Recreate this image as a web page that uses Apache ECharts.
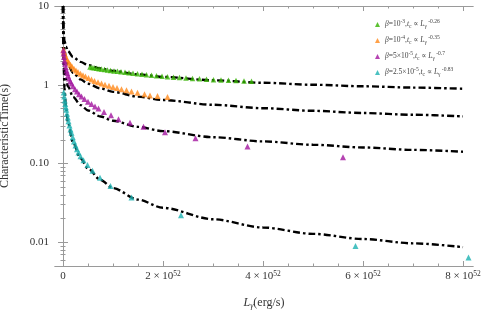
<!DOCTYPE html>
<html><head><meta charset="utf-8">
<script src="https://cdn.jsdelivr.net/npm/echarts@6/dist/echarts.min.js"></script>
<style>html,body{margin:0;padding:0;background:#fff}#c{width:488px;height:320px}</style>
</head><body><div id="c"></div>
<script>
// x in units of 10^52 erg/s, y in seconds
const xMajorTicks = [0, 2, 4, 6, 8];
const xMinorTicks = [0.5, 1, 1.5, 2.5, 3, 3.5, 4.5, 5, 5.5, 6.5, 7, 7.5];
const yMajorTicks = [0.01, 0.1, 1, 10];
const yMinorTicks = [0.006, 0.007, 0.008, 0.009, 0.02, 0.03, 0.04, 0.05, 0.06, 0.07, 0.08, 0.09,
  0.2, 0.3, 0.4, 0.5, 0.6, 0.7, 0.8, 0.9, 2, 3, 4, 5, 6, 7, 8, 9];

const seriesNames = ['b1', 'b2', 'b3', 'b4'];
const seriesColors = ['#35b300', '#ff8a1c', '#a3159f', '#1db1b1'];

const greenPts = [[0.54,1.68],[0.58,1.66],[0.62,1.64],[0.67,1.62],[0.72,1.60],[0.77,1.58],[0.83,1.56],
  [0.89,1.54],[0.95,1.52],[1.02,1.50],[1.09,1.48],[1.16,1.46],[1.24,1.44],[1.32,1.42],[1.40,1.40],
  [1.49,1.38],[1.58,1.36],[1.67,1.34],[1.77,1.32],[1.87,1.30],[1.98,1.28],[2.09,1.265],[2.21,1.25],
  [2.33,1.235],[2.46,1.22],[2.59,1.205],[2.73,1.19],[2.87,1.175],[3.01,1.16],[3.16,1.15],[3.31,1.14],
  [3.46,1.13],[3.62,1.12],[3.77,1.11]];
const orangePts = [[0.01,2.80],[0.02,2.62],[0.035,2.45],[0.05,2.30],[0.07,2.15],[0.09,2.03],[0.12,1.90],
  [0.15,1.79],[0.18,1.70],[0.22,1.60],[0.26,1.52],[0.30,1.45],[0.35,1.38],[0.40,1.32],[0.45,1.27],
  [0.51,1.22],[0.57,1.17],[0.63,1.12],[0.70,1.08],[0.77,1.04],[0.84,1.00],[0.92,0.97],[1.00,0.94],
  [1.08,0.91],[1.17,0.88],[1.27,0.85],[1.37,0.82],[1.49,0.79],[1.63,0.76],[1.74,0.73],[1.89,0.72],[2.09,0.70]];
const purplePts = [[0.007,2.75],[0.012,2.5],[0.02,2.25],[0.03,2.02],[0.04,1.85],[0.055,1.67],[0.07,1.52],
  [0.085,1.41],[0.1,1.3],[0.12,1.2],[0.145,1.11],[0.17,1.04],[0.2,0.96],[0.24,0.88],[0.28,0.82],
  [0.32,0.76],[0.37,0.71],[0.43,0.66],[0.5,0.61],[0.57,0.57],[0.64,0.53],[0.71,0.50],[0.82,0.45],
  [0.96,0.41],[1.11,0.365],[1.34,0.33],[1.61,0.292],[2.04,0.25],[2.65,0.21],[3.69,0.164],[5.6,0.12]];
const cyanPts = [[0.015,0.80],[0.025,0.71],[0.035,0.63],[0.045,0.57],[0.055,0.52],[0.065,0.48],[0.08,0.43],
  [0.095,0.385],[0.11,0.345],[0.13,0.305],[0.15,0.27],[0.17,0.245],[0.195,0.215],[0.22,0.19],[0.25,0.17],
  [0.28,0.152],[0.31,0.138],[0.35,0.124],[0.41,0.110],[0.49,0.096],[0.59,0.081],[0.74,0.066],[0.95,0.052],
  [1.37,0.037],[2.36,0.022],[5.85,0.0090],[8.11,0.0064]];

const fitGreen = [[0.0005,10],[0.002,7.14],[0.006,5.42],[0.015,4.30],[0.03,3.62],[0.06,3.04],[0.1,2.67],
  [0.2,2.25],[0.35,1.95],[0.5,1.78],[0.75,1.61],[1,1.50],[1.5,1.355],[2,1.26],[3,1.14],[4,1.06],
  [5,1.00],[6,0.957],[7,0.921],[8,0.890]];
const fitOrange = [[0.0007,10],[0.002,6.94],[0.006,4.75],[0.015,3.46],[0.03,2.73],[0.06,2.15],[0.1,1.80],
  [0.2,1.42],[0.35,1.17],[0.5,1.03],[0.75,0.898],[1,0.813],[1.5,0.707],[2,0.640],[3,0.557],[4,0.504],
  [5,0.467],[6,0.438],[7,0.416],[8,0.397]];
const fitPurple = [[0.00046,10],[0.002,5.24],[0.006,3.25],[0.015,2.18],[0.03,1.61],[0.06,1.19],[0.1,0.953],
  [0.2,0.704],[0.35,0.552],[0.5,0.472],[0.75,0.396],[1,0.349],[1.5,0.292],[2,0.258],[3,0.216],[4,0.191],
  [5,0.173],[6,0.160],[7,0.149],[8,0.141]];
const fitCyan = [[0.0016,10],[0.003,6.04],[0.006,3.40],[0.015,1.59],[0.03,0.895],[0.06,0.503],[0.1,0.329],
  [0.2,0.185],[0.35,0.1165],[0.5,0.0866],[0.75,0.0618],[1,0.0487],[1.5,0.0348],[2,0.0274],[3,0.0196],
  [4,0.0154],[5,0.0128],[6,0.0110],[7,0.0097],[8,0.00867]];

const legendLabels = {
  b1: '{i|β}{n|=10}{s|-3}{n|,}{i|t}{b|c}{n| ∝ }{i|L}{b|γ}{s| -0.26}',
  b2: '{i|β}{n|=10}{s|-4}{n|,}{i|t}{b|c}{n| ∝ }{i|L}{b|γ}{s| -0.35}',
  b3: '{i|β}{n|=5×10}{s|-5}{n|,}{i|t}{b|c}{n| ∝ }{i|L}{b|γ}{s| -0.7}',
  b4: '{i|β}{n|=2.5×10}{s|-5}{n|,}{i|t}{b|c}{n| ∝ }{i|L}{b|γ}{s| -0.83}'
};

const SERIF = '"Liberation Serif","DejaVu Serif",serif';
const GRAY = '#9a9a9a';
const XMIN = -0.16, XMAX = 8.2, YMIN = 0.005, YMAX = 10;

function xAx(pos, ticks, len, labels, extra) {
  return Object.assign({
    type: 'value', position: pos, min: XMIN, max: XMAX,
    axisLine: { show: true, lineStyle: { color: GRAY, width: 1 } },
    axisTick: { show: true, inside: true, length: len, customValues: ticks, lineStyle: { color: GRAY } },
    axisLabel: labels ? {
      show: true, customValues: ticks, margin: 4,
      formatter: v => v === 0 ? '{n|0}' : '{n|' + v + ' × 10}{s|52}',
      rich: {
        n: { fontFamily: SERIF, fontSize: 11, color: '#333', lineHeight: 13 },
        s: { fontFamily: SERIF, fontSize: 7.5, color: '#333', lineHeight: 8, verticalAlign: 'top' }
      }
    } : { show: false },
    splitLine: { show: false }
  }, extra || {});
}
function yAx(pos, ticks, len, labels, extra) {
  return Object.assign({
    type: 'log', logBase: 10, position: pos, min: YMIN, max: YMAX,
    axisLine: { show: true, lineStyle: { color: GRAY, width: 1 } },
    axisTick: { show: true, inside: true, length: len, customValues: ticks, lineStyle: { color: GRAY } },
    axisLabel: labels ? {
      show: true, customValues: ticks, margin: 6,
      fontFamily: SERIF, fontSize: 11, color: '#333',
      formatter: v => v >= 1 ? String(Math.round(v)) : Number(v).toFixed(2)
    } : { show: false },
    splitLine: { show: false }
  }, extra || {});
}

const chart = echarts.init(document.getElementById('c'), null, { renderer: 'canvas' });
const pts = [greenPts, orangePts, purplePts, cyanPts];
const fits = [fitGreen, fitOrange, fitPurple, fitCyan];
const series = [];
fits.forEach((f, i) => series.push({
  type: 'line', name: 'fit' + i, data: f, showSymbol: false, symbol: 'none',
  smooth: 0.3, smoothMonotone: 'x', z: 2, silent: true,
  lineStyle: { color: '#000', width: 2.4, type: [7, 3, 2.5, 3], cap: 'butt' }
}));
pts.forEach((p, i) => series.push({
  type: 'scatter', name: seriesNames[i], data: p, symbol: 'triangle',
  symbolSize: i === 0 ? 5.5 : 6, z: 3, itemStyle: { color: seriesColors[i] }
}));

chart.setOption({
  animation: false,
  backgroundColor: '#fff',
  grid: { left: 55, right: 15, top: 6, bottom: 54, containLabel: false, outerBoundsMode: 'none' },
  legend: {
    data: seriesNames, orient: 'vertical', left: 370, top: 14,
    itemWidth: 5, itemHeight: 5, itemGap: 5, itemStyle: {},
    formatter: n => legendLabels[n],
    textStyle: {
      rich: {
        n: { fontFamily: SERIF, fontSize: 7.5, color: '#444', lineHeight: 11 },
        i: { fontFamily: SERIF, fontSize: 7.5, fontStyle: 'italic', color: '#444', lineHeight: 11 },
        s: { fontFamily: SERIF, fontSize: 5.5, color: '#444', lineHeight: 6, verticalAlign: 'top' },
        b: { fontFamily: SERIF, fontSize: 5.5, color: '#444', lineHeight: 6, verticalAlign: 'bottom' }
      }
    }
  },
  xAxis: [
    xAx('bottom', xMajorTicks, 5, true, {
      name: '{i|L}{b|γ}{n|(erg/s)}', nameLocation: 'middle', nameGap: 30,
      nameTextStyle: { rich: {
        i: { fontFamily: SERIF, fontSize: 12, fontStyle: 'italic', color: '#333', lineHeight: 14 },
        b: { fontFamily: SERIF, fontSize: 8, fontStyle: 'italic', color: '#333', lineHeight: 9, verticalAlign: 'bottom' },
        n: { fontFamily: SERIF, fontSize: 12, color: '#333', lineHeight: 14 }
      } }
    }),
    xAx('bottom', xMinorTicks, 2.5, false),
    xAx('top', xMajorTicks, 5, false),
    xAx('top', xMinorTicks, 2.5, false)
  ],
  yAxis: [
    yAx('left', yMajorTicks, 5, true, {
      name: 'CharacteristicTime(s)', nameLocation: 'middle', nameGap: 44,
      nameTextStyle: { fontFamily: SERIF, fontSize: 12, color: '#333' }
    }),
    yAx('left', yMinorTicks, 2.5, false),
    yAx('right', yMajorTicks, 5, false),
    yAx('right', yMinorTicks, 2.5, false)
  ],
  series: series
});
</script>
</body></html>
